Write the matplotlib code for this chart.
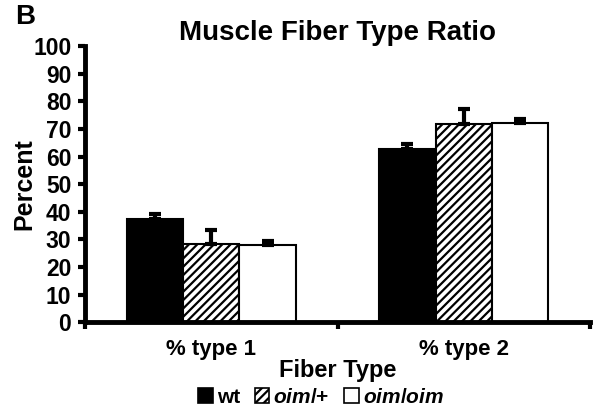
import matplotlib
matplotlib.use("Agg")
import matplotlib.pyplot as plt
from matplotlib.patches import Patch
import numpy as np

plt.rcParams['font.family'] = ['Liberation Sans', 'DejaVu Sans']
plt.rcParams['font.weight'] = 'bold'
plt.rcParams['mathtext.fontset'] = 'custom'
plt.rcParams['mathtext.it'] = 'Liberation Sans:italic:bold'
plt.rcParams['mathtext.rm'] = 'Liberation Sans:bold'
plt.rcParams['hatch.linewidth'] = 1.6

categories = ["% type 1", "% type 2"]
groups = ["wt", "oim/+", "oim/oim"]
legend_labels = ["wt", r"$\mathit{oim}$/+", r"$\mathit{oim}$/$\mathit{oim}$"]
values = {
    "wt": [37.3, 62.7],
    "oim/+": [28.2, 71.8],
    "oim/oim": [28.0, 72.0],
}
errors = {
    "wt": [1.8, 1.8],
    "oim/+": [5.3, 5.4],
    "oim/oim": [1.5, 1.5],
}
yticks = list(range(0, 101, 10))

styles = {
    "wt": dict(facecolor="black", hatch=None),
    "oim/+": dict(facecolor="white", hatch="////"),
    "oim/oim": dict(facecolor="white", hatch=None),
}

fig = plt.figure(figsize=(6.0, 4.12), dpi=100)
ax = fig.add_axes([0.142, 0.218, 0.841, 0.670])

width = 0.223
centers = np.arange(len(categories)) + 0.5
for i, g in enumerate(groups):
    xs = centers + (i - 1) * width
    ax.bar(xs, values[g], width=width, edgecolor="black", linewidth=1.5,
           facecolor=styles[g]["facecolor"], hatch=styles[g]["hatch"], zorder=2)
    ax.errorbar(xs, values[g], yerr=[np.zeros(len(xs)), errors[g]], fmt="none",
                ecolor="black", elinewidth=3, capsize=4, capthick=3, zorder=3)

ax.set_xlim(0, len(categories))
ax.set_ylim(0, 100)
ax.set_yticks(yticks)
ax.set_yticklabels([str(t) for t in yticks], fontsize=16.5, fontweight="bold")
ax.set_xticks(np.arange(len(categories) + 1))
ax.set_xticklabels([])
ax.set_xticks(centers, minor=True)
ax.set_xticklabels(categories, minor=True, fontsize=16, fontweight="bold")
ax.tick_params(axis="x", which="minor", length=0, pad=12)
ax.tick_params(axis="x", which="major", length=5, width=3, direction="out")
ax.tick_params(axis="y", length=5, width=3, direction="out", pad=5)

for s in ["top", "right"]:
    ax.spines[s].set_visible(False)
for s in ["left", "bottom"]:
    ax.spines[s].set_linewidth(3.5)

ax.set_ylabel("Percent", fontsize=18, fontweight="bold")
ax.yaxis.set_label_coords(-0.096, 0.5)
ax.set_xlabel("Fiber Type", fontsize=17, fontweight="bold", va="top")
ax.xaxis.set_label_coords(0.5, -0.135)
ax.set_title("Muscle Fiber Type Ratio", fontsize=20, fontweight="bold", pad=1)

fig.text(0.042, 0.958, "B", fontsize=20, fontweight="bold", ha="center", va="center")

handles = [Patch(facecolor=styles[g]["facecolor"], edgecolor="black",
                 hatch=styles[g]["hatch"], linewidth=1.2) for g in groups]
fig.legend(handles, legend_labels, loc="center", bbox_to_anchor=(0.535, 0.035),
           ncol=3, frameon=False, handlelength=0.7, handleheight=0.7,
           handletextpad=0.2, columnspacing=0.7, prop={"weight": "bold", "size": 15})

fig.savefig("out.png", dpi=100)
